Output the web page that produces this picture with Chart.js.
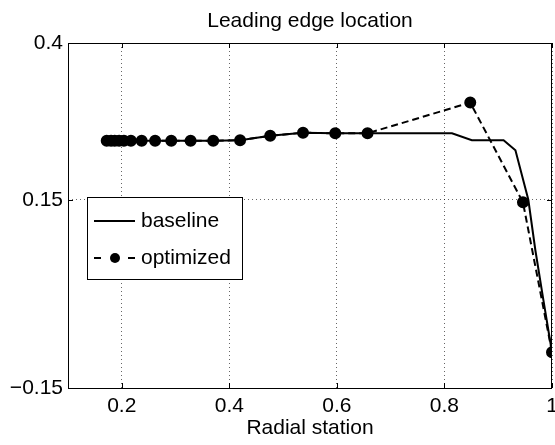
<!DOCTYPE html>
<html>
<head>
<title>Leading edge location</title>
<script src="https://cdn.jsdelivr.net/npm/chart.js@4.4.0/dist/chart.umd.min.js"></script>
<style>
body { margin:0; overflow:hidden; background:#fff; }
#wrap { width:570px; height:445px; }
</style>
</head>
<body>
<div id="wrap"><canvas id="myChart" width="570" height="445"></canvas></div>
<script>
// values
var stations = [0.172, 0.180, 0.187, 0.195, 0.204, 0.217, 0.237, 0.262, 0.292, 0.328,
                0.370, 0.420, 0.476, 0.537, 0.597, 0.657, 0.848, 0.946, 1.0];
var optimized = [0.244, 0.244, 0.244, 0.244, 0.244, 0.244, 0.244, 0.244, 0.244, 0.244,
                 0.244, 0.245, 0.252, 0.257, 0.256, 0.256, 0.305, 0.146, -0.093];
var baseX = [0.172, 0.180, 0.187, 0.195, 0.204, 0.217, 0.237, 0.262, 0.292, 0.328,
             0.370, 0.420, 0.476, 0.537, 0.597, 0.657, 0.814, 0.851, 0.910, 0.932,
             0.956, 0.969, 0.984, 1.0];
var baseline = [0.244, 0.244, 0.244, 0.244, 0.244, 0.244, 0.244, 0.244, 0.244, 0.244,
                0.244, 0.245, 0.252, 0.257, 0.256, 0.256, 0.256, 0.245, 0.245, 0.229,
                0.150, 0.070, -0.010, -0.093];
var xTicks = [0.2, 0.4, 0.6, 0.8, 1];
var xTickLabels = ['0.2', '0.4', '0.6', '0.8', '1'];
var yTicks = [-0.15, 0.15, 0.4];
var yTickLabels = ['\u22120.15', '0.15', '0.4'];

function pts(xs, ys) {
  return xs.map(function (x, i) { return { x: x, y: ys[i] }; });
}
var FONT = 'Liberation Sans, Arial, Helvetica, sans-serif';
var FS = 21;

// frame, inner ticks, title, legend (MATLAB style)
var matlabBits = {
  id: 'matlabBits',
  afterDraw: function (chart) {
    var c = chart.ctx, a = chart.chartArea;
    var xs = chart.scales.x, ys = chart.scales.y;
    c.save();
    c.strokeStyle = '#000';
    c.lineWidth = 1;
    c.beginPath();
    xTicks.forEach(function (v) {
      var px = Math.round(xs.getPixelForValue(v)) + 0.5;
      c.moveTo(px, a.bottom); c.lineTo(px, a.bottom - 5);
      c.moveTo(px, a.top); c.lineTo(px, a.top + 5);
    });
    yTicks.forEach(function (v) {
      var py = Math.round(ys.getPixelForValue(v)) + 0.5;
      c.moveTo(a.left, py); c.lineTo(a.left + 5, py);
      c.moveTo(a.right, py); c.lineTo(a.right - 5, py);
    });
    c.stroke();
    c.strokeRect(a.left + 0.5, a.top + 0.5, a.right - a.left - 1, a.bottom - a.top);

    // title
    c.fillStyle = '#000';
    c.font = FS + 'px ' + FONT;
    c.textAlign = 'center';
    c.textBaseline = 'alphabetic';
    c.fillText('Leading edge location', (a.left + a.right) / 2, 27);

    // legend box
    var lx = 87, ly = 197, lw = 155, lh = 82;
    c.fillStyle = '#fff';
    c.fillRect(lx, ly, lw, lh);
    c.strokeRect(lx + 0.5, ly + 0.5, lw, lh);
    c.lineWidth = 2;
    c.beginPath(); c.moveTo(94, 221); c.lineTo(135, 221); c.stroke();
    c.beginPath(); c.moveTo(94, 258); c.lineTo(101, 258);
    c.moveTo(128, 258); c.lineTo(135, 258); c.stroke();
    c.fillStyle = '#000';
    c.beginPath(); c.arc(115, 258, 5, 0, 2 * Math.PI); c.fill();
    c.font = FS + 'px ' + FONT;
    c.textAlign = 'left';
    c.textBaseline = 'middle';
    c.fillText(chart.data.datasets[0].label, 141, 221);
    c.fillText(chart.data.datasets[1].label, 141, 258);
    c.restore();
  }
};

var ctx = document.getElementById('myChart').getContext('2d');
var chart = new Chart(ctx, {
  type: 'scatter',
  data: {
    datasets: [
      {
        label: 'baseline',
        data: pts(baseX, baseline),
        showLine: true,
        borderColor: '#000',
        borderWidth: 2,
        pointRadius: 0,
        order: 2
      },
      {
        label: 'optimized',
        data: pts(stations, optimized),
        showLine: true,
        borderColor: '#000',
        borderWidth: 2,
        borderDash: [7, 4],
        pointRadius: 5,
        pointBackgroundColor: '#000',
        pointBorderColor: '#000',
        order: 1
      }
    ]
  },
  options: {
    responsive: false,
    animation: false,
    layout: { padding: { left: 0, right: 18, top: 43, bottom: 0 } },
    plugins: { legend: { display: false }, tooltip: { enabled: false } },
    scales: {
      x: {
        type: 'linear', min: 0.1, max: 1,
        afterBuildTicks: function (s) { s.ticks = xTicks.map(function (v) { return { value: v }; }); },
        afterFit: function (s) { s.height = 57; },
        border: { display: false, dash: [1, 3] },
        grid: { color: 'rgba(0,0,0,0.6)', drawTicks: false },
        ticks: {
          padding: 6, color: '#000', font: { family: FONT, size: FS },
          maxRotation: 0, autoSkip: false,
          callback: function (v) { return xTickLabels[xTicks.indexOf(v)]; }
        },
        title: { display: true, text: 'Radial station', color: '#000',
                 font: { family: FONT, size: FS }, padding: { top: 0, bottom: 4 } }
      },
      y: {
        type: 'linear', min: -0.15, max: 0.4,
        afterBuildTicks: function (s) { s.ticks = yTicks.map(function (v) { return { value: v }; }); },
        afterFit: function (s) { s.width = 68; },
        border: { display: false, dash: [1, 3] },
        grid: { color: 'rgba(0,0,0,0.6)', drawTicks: false },
        ticks: {
          padding: 5, color: '#000', font: { family: FONT, size: FS },
          callback: function (v) { return yTickLabels[yTicks.indexOf(v)]; }
        }
      }
    }
  },
  plugins: [matlabBits]
});
</script>
</body>
</html>
